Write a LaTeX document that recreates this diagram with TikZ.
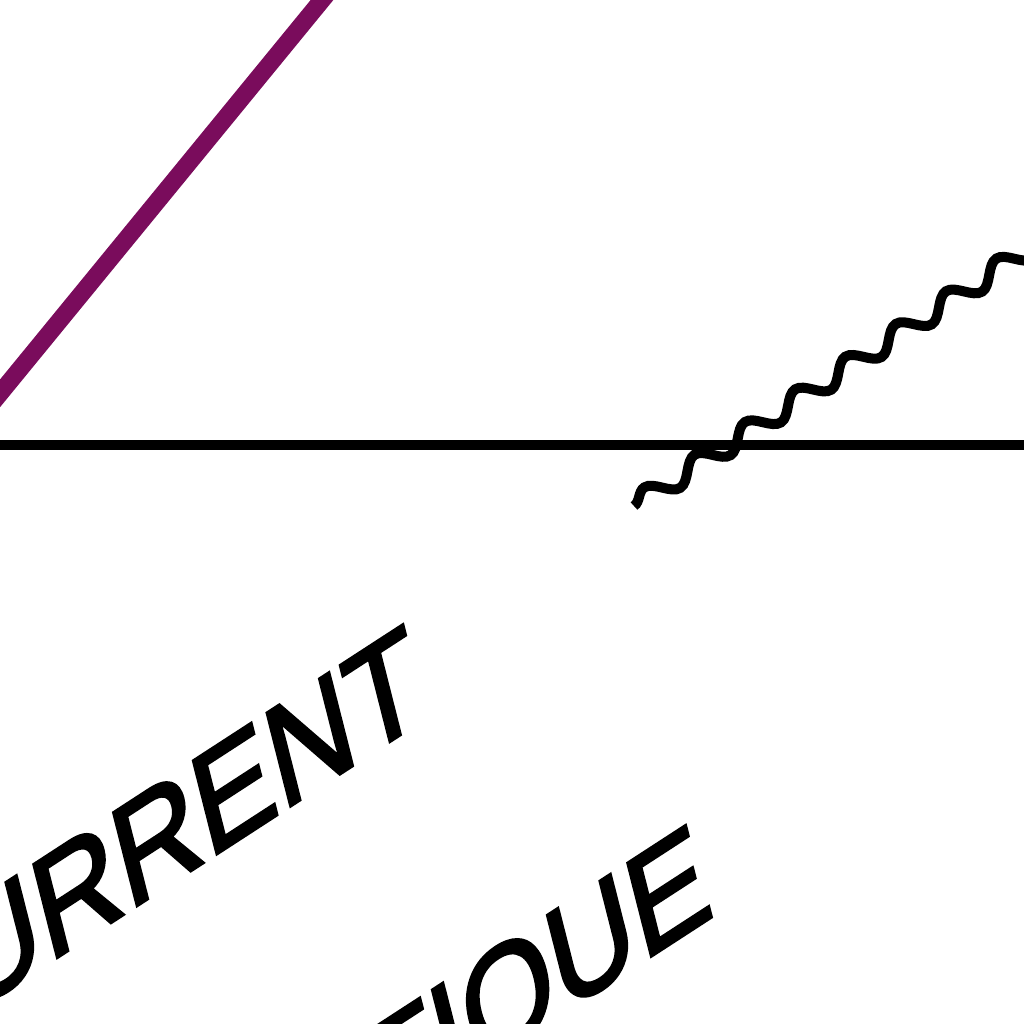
\documentclass[tikz,border=0pt]{standalone}
\usepackage{fontspec}
\setmainfont{Liberation Sans}
\newfontfamily\labfont[FakeBold=2.5]{Liberation Sans}
\usetikzlibrary{decorations.pathmorphing}
\definecolor{plum}{RGB}{122,12,92}
\begin{document}
\begin{tikzpicture}[x=0.02cm,y=-0.02cm,
  lab/.style={font=\labfont\fontsize{75}{80}\selectfont, inner sep=0pt, outer sep=0pt, rotate=33, xslant=0.34},
  rule/.style={line width=5.7pt},
  wave/.style={line width=5.7pt, decorate, decoration={snake, segment length=1.2cm, amplitude=0.2cm}},
  beam/.style={plum, line width=10pt}]
\useasboundingbox (0,0) rectangle (1024,1024);
\clip (0,0) rectangle (1024,1024);
\coordinate (p1) at (-30,430);
\coordinate (p2) at (340,-22);
\draw[beam] (p1) -- (p2);
\coordinate (h1) at (-10,445);
\coordinate (h2) at (1034,445);
\draw[rule] (h1) -- (h2);
\coordinate (w1) at (634,506);
\coordinate (w2) at (1137,179);
\draw[wave] (w1) -- (w2);
\node[lab, anchor=base east] (t1) at (429,716) {URRENT};
\node[lab, anchor=base east] (t2) at (716,914) {TIQUE};
\end{tikzpicture}
\end{document}
